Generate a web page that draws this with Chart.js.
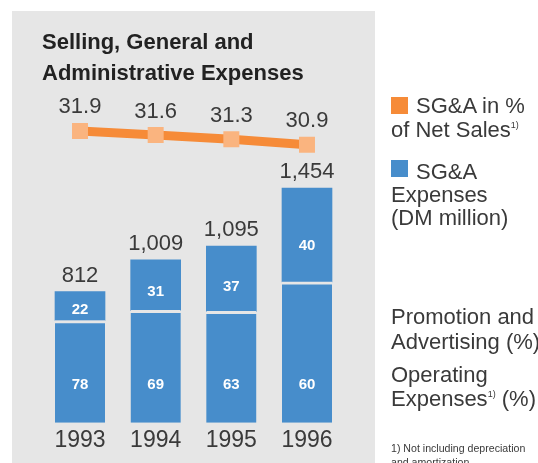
<!DOCTYPE html>
<html>
<head>
<meta charset="utf-8">
<script src="https://cdn.jsdelivr.net/npm/chart.js@4"></script>
<style>
  body { margin: 0; width: 538px; height: 463px; overflow: hidden; background: #fff;
         font-family: "Liberation Sans", Arial, sans-serif; color: #3a3a3a; }
  #panel { position: absolute; left: 12px; top: 11px; width: 363px; height: 460px; background: #e6e6e6; }
  #c { position: absolute; left: 0; top: 0; }
  .txt { position: absolute; white-space: nowrap; font-size: 22px; }
  .sq { position: absolute; width: 17px; height: 17px; }
  sup { font-size: 9px; vertical-align: 9px; line-height: 0; }
</style>
</head>
<body>
<div id="panel"></div>
<canvas id="c" width="538" height="463"></canvas>

<div class="txt" style="left:42px; top:26px; line-height:31px; font-weight:bold; font-size:22px; color:#222;">Selling, General and<br>Administrative Expenses</div>

<div class="sq" style="left:391px; top:97px; background:#f68b38;"></div>
<div class="txt" style="left:391px; top:94px; line-height:24px;"><span style="padding-left:25px">SG&amp;A in %</span><br>of Net Sales<sup>1)</sup></div>

<div class="sq" style="left:391px; top:160px; background:#478dcb;"></div>
<div class="txt" style="left:391px; top:160px; line-height:23px;"><span style="padding-left:25px">SG&amp;A</span><br>Expenses<br>(DM million)</div>

<div class="txt" style="left:391px; top:304px; line-height:25px;">Promotion and<br>Advertising (%)</div>
<div class="txt" style="left:391px; top:363px; line-height:23.5px;">Operating<br>Expenses<sup>1)</sup> (%)</div>
<div class="txt" style="left:391px; top:441px; line-height:14px; font-size:10.6px;">1) Not including depreciation<br>and amortization</div>

<script>
const years = ["1993", "1994", "1995", "1996"];
const totalExpenses = [812, 1009, 1095, 1454];   // DM million
const operatingPct = [78, 69, 63, 60];
const promotionPct = [22, 31, 37, 40];
const salesPct = [31.9, 31.6, 31.3, 30.9];

const operating = totalExpenses.map((t, i) => t * operatingPct[i] / 100);
const promotion = totalExpenses.map((t, i) => t * promotionPct[i] / 100);

const blue = "#478dcb";
const textCol = "#3a3a3a";
const fam = '"Liberation Sans", Arial, sans-serif';

// labels on the bars, line points and years
const labelPlugin = {
  id: "labels",
  afterDatasetsDraw(chart) {
    const ctx = chart.ctx;
    ctx.save();
    ctx.textAlign = "center";
    ctx.textBaseline = "alphabetic";

    const opBars = chart.getDatasetMeta(1).data;
    const prBars = chart.getDatasetMeta(2).data;
    const pts = chart.getDatasetMeta(0).data;

    for (let i = 0; i < years.length; i++) {
      const op = opBars[i], pr = prBars[i];

      // inside values
      ctx.fillStyle = "#fff";
      ctx.font = "bold 15px " + fam;
      ctx.fillText(operatingPct[i], op.x, op.base - 39.4 + 5.4);
      const h = pr.base - pr.y;
      ctx.fillText(promotionPct[i], pr.x, pr.y + h * 0.6 + 5.4);

      // totals above bars
      ctx.fillStyle = textCol;
      ctx.font = "22px " + fam;
      ctx.fillText(totalExpenses[i].toLocaleString("en-US"), pr.x, pr.y - 9.6);

      // line values
      ctx.fillText(salesPct[i].toFixed(1), pts[i].x, pts[i].y - 17.6);

      // years
      ctx.font = "23px " + fam;
      ctx.fillText(years[i], chart.scales.x.getPixelForValue(i), chart.chartArea.bottom + 23.8);
    }
    ctx.restore();
  }
};

new Chart(document.getElementById("c"), {
  type: "bar",
  data: {
    labels: years,
    datasets: [
      {
        type: "line",
        data: salesPct,
        yAxisID: "y1",
        borderColor: "#f68b38",
        borderWidth: 9,
        pointStyle: "rect",
        pointRadius: 11.3,
        pointHoverRadius: 11.3,
        pointBackgroundColor: "#fab47f",
        pointBorderWidth: 0,
        tension: 0,
        order: 0
      },
      {
        data: operating,
        yAxisID: "y",
        stack: "s",
        backgroundColor: blue,
        borderColor: "#e6e6e6",
        borderWidth: { top: 3, left: 0, right: 0, bottom: 0 },
        barThickness: 50,
        order: 1
      },
      {
        data: promotion,
        yAxisID: "y",
        stack: "s",
        backgroundColor: blue,
        borderWidth: 0,
        barThickness: 50,
        order: 1
      }
    ]
  },
  options: {
    responsive: false,
    animation: false,
    layout: { padding: { left: 42.17, right: 193.17, top: 100, bottom: 40.3 } },
    plugins: { legend: { display: false }, tooltip: { enabled: false } },
    scales: {
      x: { display: false, stacked: true, offset: true },
      y: { display: false, stacked: true, min: 0, max: 2000 },
      y1: { display: false, min: 10.608, max: 34.163 }
    }
  },
  plugins: [labelPlugin]
});
</script>
</body>
</html>
